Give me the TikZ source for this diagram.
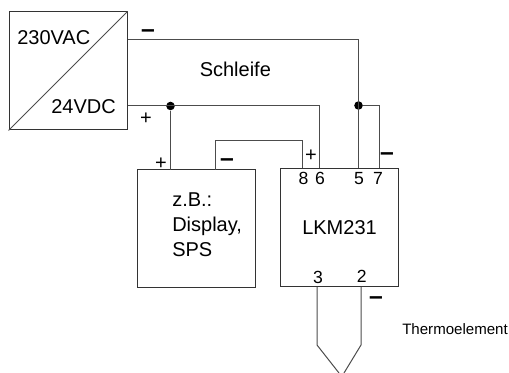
\documentclass[tikz,border=0pt]{standalone}
\usepackage{fontspec}
\setmainfont{Liberation Sans}
\usetikzlibrary{positioning}
\tikzstyle{block} = [draw=black!80, line width=0.75pt, rectangle, minimum width=88.5pt, minimum height=88.5pt, inner sep=0pt]
\tikzstyle{wire} = [draw=black!70, line width=0.75pt]
\tikzstyle{dot} = [circle, fill=black, inner sep=0pt, minimum size=6.4pt]
\tikzstyle{txt} = [anchor=base west, inner sep=0pt, font=\fontsize{15pt}{18.75pt}\selectfont]
\tikzstyle{pinno} = [anchor=base, inner sep=0pt, font=\fontsize{13.2pt}{15pt}\selectfont]
\tikzstyle{plussign} = [inner sep=0pt, font=\fontsize{15pt}{15pt}\selectfont]
\tikzstyle{minussign} = [inner sep=0pt, font=\fontsize{18.5pt}{15pt}\selectfont\bfseries]
\begin{document}
\begin{tikzpicture}[x=0.75pt, y=-0.75pt]
    \useasboundingbox (0,0) rectangle (509,373);
    % We start by placing the blocks
    \node [block] (netz) at (68,71) {};
    \node [block] (display) at (196,229) {};
    \node [block] (lkm) at (339.75,227.5) {};
    \draw [wire] (netz.south west) -- (netz.north east);
    % junctions and free ends
    \coordinate (minus) at (netz.east |- 0,39.5);
    \coordinate (plus) at (netz.east |- 0,106);
    \node [dot] (dotp) at (170.5,106) {};
    \node [dot] (dotm) at (358.5,105.5) {};
    \coordinate (pin8) at (302.5,168);
    \coordinate (pin6) at (319,168);
    \coordinate (pin5) at (358.5,168);
    \coordinate (pin7) at (379,168);
    \coordinate (pin3) at (317,287);
    \coordinate (pin2) at (361,287);
    \coordinate (dispp) at (170.5,170);
    \coordinate (dispm) at (215.5,170);
    \coordinate (bridge) at (215.5,140.5);
    \coordinate (endl) at (339,373);
    \coordinate (endr) at (344,373);
    % wires
    \draw [wire] (minus) -- (dotm |- minus) -- (pin5);
    \draw [wire] (plus) -- (pin6 |- plus) -- (pin6);
    \draw [wire] (dotp) -- (dispp);
    \draw [wire] (dotm) -| (pin7);
    \draw [wire] (dispm) -- (bridge) -| (pin8);
    \draw [wire] (pin3) -- (317,345) -- (endl);
    \draw [wire] (pin2) -- (361,345) -- (endr);
    % labels
    \node [txt] (tac) at (17,45) {230VAC};
    \node [txt] (tdc) at (51,114) {24VDC};
    \node [txt] (tschleife) at (199.5,77) {Schleife};
    \node [txt] (tzb) at (172,206.7) {z.B.:};
    \node [txt] (tdisp) at (172,231.7) {Display,};
    \node [txt] (tsps) at (172,256.7) {SPS};
    \node [txt] (tlkm) at (302,235) {LKM231};
    \node [txt, font=\fontsize{11.3pt}{14pt}\selectfont] (tthermo) at (402,334) {Thermoelement};
    \node [pinno] (n8) at (303.5,185) {8};
    \node [pinno] (n6) at (320,185) {6};
    \node [pinno] (n5) at (359,185) {5};
    \node [pinno] (n7) at (378,185) {7};
    \node [pinno] (n3) at (318,283.7) {3};
    \node [pinno] (n2) at (361.7,282.7) {2};
    \node [minussign] (s1) at (148,34) {--};
    \node [plussign] (s2) at (146,119) {+};
    \node [plussign] (s3) at (161,164) {+};
    \node [minussign] (s4) at (227,163) {--};
    \node [plussign] (s5) at (311,156) {+};
    \node [minussign] (s6) at (387,157) {--};
    \node [minussign] (s7) at (376,301) {--};
\end{tikzpicture}
\end{document}
